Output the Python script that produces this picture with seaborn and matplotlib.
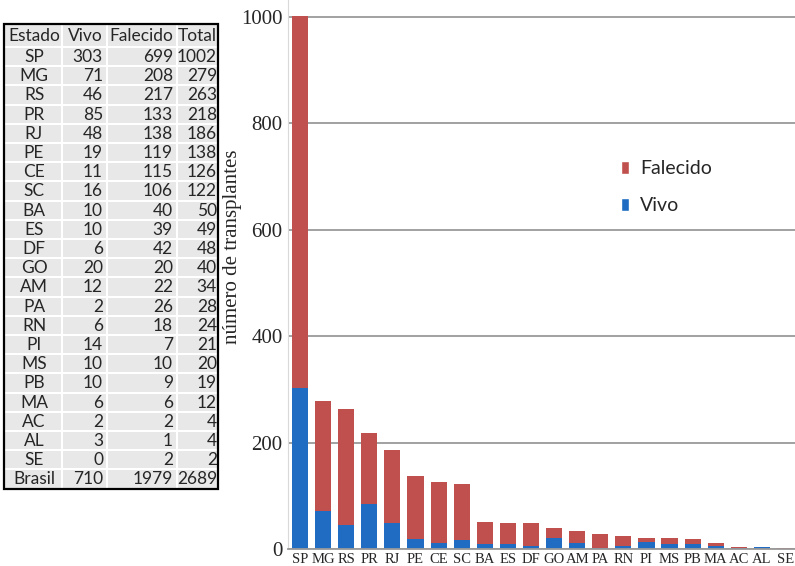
import matplotlib
matplotlib.use("Agg")
import matplotlib.pyplot as plt
from matplotlib.patches import Rectangle, Patch
import pandas as pd
import seaborn as sns

estados = ["SP", "MG", "RS", "PR", "RJ", "PE", "CE", "SC", "BA", "ES", "DF",
           "GO", "AM", "PA", "RN", "PI", "MS", "PB", "MA", "AC", "AL", "SE"]
vivo = [303, 71, 46, 85, 48, 19, 11, 16, 10, 10, 6, 20, 12, 2, 6, 14, 10, 10, 6, 2, 3, 0]
falecido = [699, 208, 217, 133, 138, 119, 115, 106, 40, 39, 42, 20, 22, 26, 18, 7, 10, 9, 6, 2, 1, 2]
total = [1002, 279, 263, 218, 186, 138, 126, 122, 50, 49, 48, 40, 34, 28, 24, 21, 20, 19, 12, 4, 4, 2]
brasil = ["Brasil", 710, 1979, 2689]
header = ["Estado", "Vivo", "Falecido", "Total"]

RED = "#C0504D"
BLUE = "#1F6CC2"

sns.set_style("white")
W, H = 795, 566
fig = plt.figure(figsize=(W / 100, H / 100), dpi=100)

# ---- bar chart ----
ax = fig.add_axes([288 / W, 17 / H, 507 / W, 549 / H])
df = pd.DataFrame({"estado": estados, "vivo": vivo, "falecido": falecido, "total": total})
sns.barplot(data=df, x="estado", y="total", color=RED, width=0.7, saturation=1,
            linewidth=0, ax=ax)
sns.barplot(data=df, x="estado", y="vivo", color=BLUE, width=0.7, saturation=1,
            linewidth=0, ax=ax)

ax.set_ylim(0, 1032)
ax.set_xlim(-0.52, 21.43)
ax.set_yticks(range(0, 1001, 200))
ax.yaxis.grid(True, color="#9a9a9a", linewidth=1.3)
ax.set_axisbelow(True)
for s in ["top", "right"]:
    ax.spines[s].set_visible(False)
ax.spines["left"].set_color("#d9d9d9")
ax.spines["bottom"].set_color("#9a9a9a")
ax.spines["bottom"].set_linewidth(1.3)
ax.tick_params(axis="both", length=0)
ax.tick_params(axis="y", pad=4)
ax.tick_params(axis="x", pad=3)
for t in ax.get_yticklabels():
    t.set_fontfamily("Liberation Serif")
    t.set_fontsize(15)
for t in ax.get_xticklabels():
    t.set_fontfamily("Liberation Serif")
    t.set_fontsize(10.5)
ax.set_xlabel("")
ax.set_ylabel("")
fig.text(232 / W, 1 - 247 / H, "número de transplantes", rotation=90,
         ha="center", va="center", fontsize=15, family="Liberation Serif")

handles = [Patch(facecolor=RED, label="Falecido"), Patch(facecolor=BLUE, label="Vivo")]
fig.legend(handles=handles, loc="upper left", bbox_to_anchor=(603 / W, 1 - 143 / H),
           frameon=False, prop={"family": "Lato", "size": 14},
           handlelength=0.45, handleheight=0.65, handletextpad=0.55, labelspacing=1.0)

# ---- table on the left ----
tx = fig.add_axes([0, 0, 1, 1])
tx.set_xlim(0, W)
tx.set_ylim(H, 0)
tx.axis("off")

col_edges = [4, 62, 107, 177, 218]
row_top = 47
row_h = 19.2
head_top = 24
gap = 2
rows = [header] + [[e, v, f, t] for e, v, f, t in zip(estados, vivo, falecido, total)] + [brasil]

for i, row in enumerate(rows):
    if i == 0:
        y0, y1 = head_top, row_top
    else:
        y0 = row_top + (i - 1) * row_h
        y1 = y0 + row_h
    yc = (y0 + y1) / 2 + 0.5
    for j, val in enumerate(row):
        x0, x1 = col_edges[j], col_edges[j + 1]
        tx.add_patch(Rectangle((x0 + gap / 2, y0 + gap / 2), x1 - x0 - gap, y1 - y0 - gap,
                               facecolor="#e8e8e8", edgecolor="none"))
        if j == 0:
            tx.text((x0 + x1) / 2 + 1, yc, str(val), ha="center", va="center",
                    fontsize=12.5, family="Lato")
        else:
            tx.text(x1 - 4 if j < 3 else x1 - 1, yc, str(val), ha="right", va="center",
                    fontsize=12.5, family="Lato")

table_bottom = row_top + (len(rows) - 1) * row_h
tx.add_patch(Rectangle((col_edges[0], head_top), col_edges[-1] - col_edges[0],
                       table_bottom - head_top, facecolor="none", edgecolor="black",
                       linewidth=1.6))

fig.savefig("out.png", dpi=100)
